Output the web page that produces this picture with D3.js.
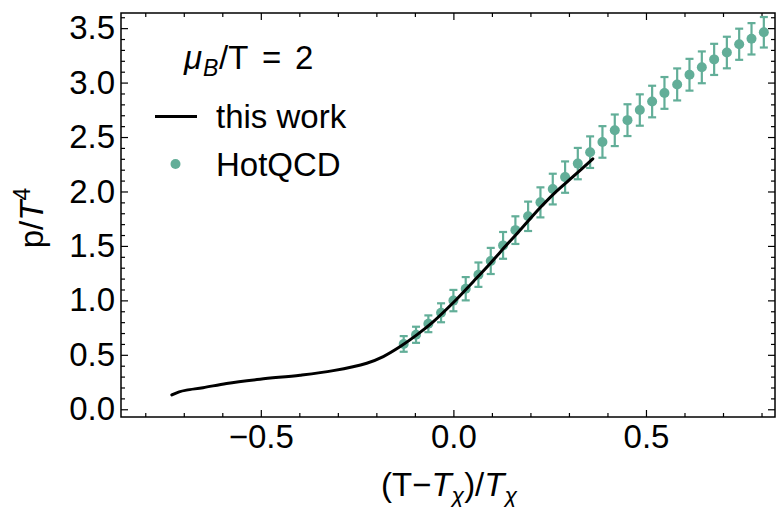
<!DOCTYPE html>
<html>
<head>
<meta charset="utf-8">
<script src="https://cdn.jsdelivr.net/npm/d3@7"></script>
<style>
  html, body { margin: 0; padding: 0; background: #fff; }
  svg { display: block; }
  text { font-family: "Liberation Sans", Arial, Helvetica, sans-serif; fill: #000; }
</style>
</head>
<body>
<svg id="chart" width="777" height="507"></svg>
<script>
// ---------------- data ----------------
// HotQCD lattice points: x = (T - T_chi)/T_chi
const hotqcdX = [-0.129, -0.097, -0.065, -0.032, 0.000, 0.032, 0.065, 0.097, 0.129, 0.161,
                 0.194, 0.226, 0.258, 0.290, 0.323, 0.355, 0.387, 0.419, 0.452, 0.484,
                 0.516, 0.548, 0.581, 0.613, 0.645, 0.677, 0.710, 0.742, 0.774, 0.806];
const hotqcdY = [0.600, 0.684, 0.785, 0.886, 0.998, 1.107, 1.236, 1.362, 1.505, 1.645,
                 1.772, 1.900, 2.022, 2.132, 2.256, 2.361, 2.455, 2.562, 2.655, 2.748,
                 2.826, 2.905, 2.983, 3.072, 3.140, 3.213, 3.276, 3.352, 3.402, 3.462];
const hotqcdErr = [0.072, 0.074, 0.077, 0.087, 0.098, 0.107, 0.112, 0.120, 0.123, 0.127,
                   0.135, 0.138, 0.141, 0.144, 0.144, 0.145, 0.145, 0.145, 0.146, 0.144,
                   0.145, 0.146, 0.147, 0.146, 0.146, 0.143, 0.145, 0.143, 0.144, 0.140];

// "this work" curve
const workX = [-0.731, -0.712, -0.693, -0.650, -0.589, -0.502, -0.398, -0.312, -0.225, -0.182,
               -0.138, -0.095, -0.052, 0.000, 0.052, 0.095, 0.139, 0.182, 0.225, 0.264,
               0.312, 0.362];
const workY = [0.132, 0.160, 0.176, 0.198, 0.237, 0.276, 0.313, 0.355, 0.423, 0.484,
               0.576, 0.683, 0.805, 0.980, 1.174, 1.337, 1.512, 1.680, 1.850, 1.990,
               2.140, 2.300];

const xMajorTicks = [-0.5, 0.0, 0.5];
const xMinorTicks = [-0.8, -0.7, -0.6, -0.4, -0.3, -0.2, -0.1, 0.1, 0.2, 0.3, 0.4, 0.6, 0.7, 0.8];
const yMajorTicks = [0.0, 0.5, 1.0, 1.5, 2.0, 2.5, 3.0, 3.5];
const yMinorTicks = [0.1, 0.2, 0.3, 0.4, 0.6, 0.7, 0.8, 0.9, 1.1, 1.2, 1.3, 1.4, 1.6, 1.7, 1.8, 1.9,
                     2.1, 2.2, 2.3, 2.4, 2.6, 2.7, 2.8, 2.9, 3.1, 3.2, 3.3, 3.4, 3.6];

const seriesNames = ["this work", "HotQCD"];
const teal = "#62ae98";

// ---------------- layout ----------------
const plot = { left: 121, right: 775, top: 13, bottom: 417 };
const FS = 33, SUB = 23;

const svg = d3.select("#chart");
const x = d3.scaleLinear().domain([-0.863, 0.835]).range([plot.left, plot.right]);
const y = d3.scaleLinear().domain([-0.071, 3.639]).range([plot.bottom, plot.top]);
const fmt = d3.format(".1f");

// axes (ticks inward)
function styleAxis(g) {
  g.select(".domain").remove();
  g.selectAll(".tick line").attr("stroke", "#000").attr("stroke-width", 1.2);
  g.selectAll(".tick text").style("font-size", FS + "px")
    .style("font-family", '"Liberation Sans", Arial, sans-serif');
}
// bottom
svg.append("g").attr("transform", `translate(0,${plot.bottom})`)
  .call(d3.axisBottom(x).tickValues(xMajorTicks).tickSize(-7).tickPadding(8).tickFormat(fmt)).call(styleAxis);
svg.append("g").attr("transform", `translate(0,${plot.bottom})`)
  .call(d3.axisBottom(x).tickValues(xMinorTicks).tickSize(-4).tickFormat("")).call(styleAxis);
// top
svg.append("g").attr("transform", `translate(0,${plot.top})`)
  .call(d3.axisTop(x).tickValues(xMajorTicks).tickSize(-7).tickFormat("")).call(styleAxis);
svg.append("g").attr("transform", `translate(0,${plot.top})`)
  .call(d3.axisTop(x).tickValues(xMinorTicks).tickSize(-4).tickFormat("")).call(styleAxis);
// left
svg.append("g").attr("transform", `translate(${plot.left},0)`)
  .call(d3.axisLeft(y).tickValues(yMajorTicks).tickSize(-7).tickPadding(6).tickFormat(fmt)).call(styleAxis);
svg.append("g").attr("transform", `translate(${plot.left},0)`)
  .call(d3.axisLeft(y).tickValues(yMinorTicks).tickSize(-4).tickFormat("")).call(styleAxis);
// right
svg.append("g").attr("transform", `translate(${plot.right},0)`)
  .call(d3.axisRight(y).tickValues(yMajorTicks).tickSize(-7).tickFormat("")).call(styleAxis);
svg.append("g").attr("transform", `translate(${plot.right},0)`)
  .call(d3.axisRight(y).tickValues(yMinorTicks).tickSize(-4).tickFormat("")).call(styleAxis);

// frame
svg.append("rect")
  .attr("x", plot.left).attr("y", plot.top)
  .attr("width", plot.right - plot.left).attr("height", plot.bottom - plot.top)
  .attr("fill", "none").attr("stroke", "#000").attr("stroke-width", 1.5);

// ---------------- HotQCD points ----------------
const pts = hotqcdX.map((v, i) => ({ x: v, y: hotqcdY[i], e: hotqcdErr[i] }));
const gp = svg.append("g");
const capW = 4;
pts.forEach(d => {
  const cx = x(d.x), y1 = y(d.y + d.e), y0 = y(d.y - d.e);
  gp.append("line").attr("x1", cx).attr("x2", cx).attr("y1", y1).attr("y2", y0)
    .attr("stroke", teal).attr("stroke-width", 2.2);
  gp.append("line").attr("x1", cx - capW).attr("x2", cx + capW).attr("y1", y1).attr("y2", y1)
    .attr("stroke", teal).attr("stroke-width", 2.2);
  gp.append("line").attr("x1", cx - capW).attr("x2", cx + capW).attr("y1", y0).attr("y2", y0)
    .attr("stroke", teal).attr("stroke-width", 2.2);
});
gp.selectAll("circle").data(pts).join("circle")
  .attr("cx", d => x(d.x)).attr("cy", d => y(d.y)).attr("r", 5).attr("fill", teal);

// ---------------- this work curve ----------------
const line = d3.line().x(d => x(d[0])).y(d => y(d[1])).curve(d3.curveCatmullRom.alpha(0.5));
svg.append("path").datum(workX.map((v, i) => [v, workY[i]]))
  .attr("d", line).attr("fill", "none").attr("stroke", "#000").attr("stroke-width", 3)
  .attr("stroke-linecap", "round");

// ---------------- legend ----------------
const lt = svg.append("text").attr("y", 69).style("font-size", FS + "px");
lt.append("tspan").attr("x", 184).attr("font-style", "italic").text("μ");
lt.append("tspan").attr("x", 203).attr("dy", 7).attr("font-style", "italic").style("font-size", SUB + "px").text("B");
lt.append("tspan").attr("x", 219).attr("dy", -7).text("/T");
lt.append("tspan").attr("x", 262).text("=");
lt.append("tspan").attr("x", 295).text("2");

svg.append("line").attr("x1", 155).attr("x2", 197).attr("y1", 116.5).attr("y2", 116.5)
  .attr("stroke", "#000").attr("stroke-width", 3);
svg.append("text").attr("x", 216).attr("y", 128).style("font-size", FS + "px").text(seriesNames[0]);
svg.append("circle").attr("cx", 175.5).attr("cy", 164).attr("r", 5).attr("fill", teal);
svg.append("text").attr("x", 216).attr("y", 176).style("font-size", FS + "px").text(seriesNames[1]);

// ---------------- axis titles ----------------
const xt = svg.append("text").attr("x", 449).attr("y", 496).attr("text-anchor", "middle")
  .style("font-size", FS + "px");
xt.append("tspan").text("(T\u2212");
xt.append("tspan").attr("font-style", "italic").text("T");
xt.append("tspan").attr("font-style", "italic").attr("dy", 7).style("font-size", SUB + "px").text("\u03C7");
xt.append("tspan").attr("dy", -7).text(")/");
xt.append("tspan").attr("font-style", "italic").text("T");
xt.append("tspan").attr("font-style", "italic").attr("dy", 7).style("font-size", SUB + "px").text("\u03C7");

const yt = svg.append("text").attr("transform", `translate(43,218) rotate(-90)`)
  .attr("text-anchor", "middle").style("font-size", FS + "px");
yt.append("tspan").text("p/");
yt.append("tspan").attr("font-style", "italic").text("T");
yt.append("tspan").attr("dy", -13).style("font-size", SUB + "px").text("4");
</script>
</body>
</html>
